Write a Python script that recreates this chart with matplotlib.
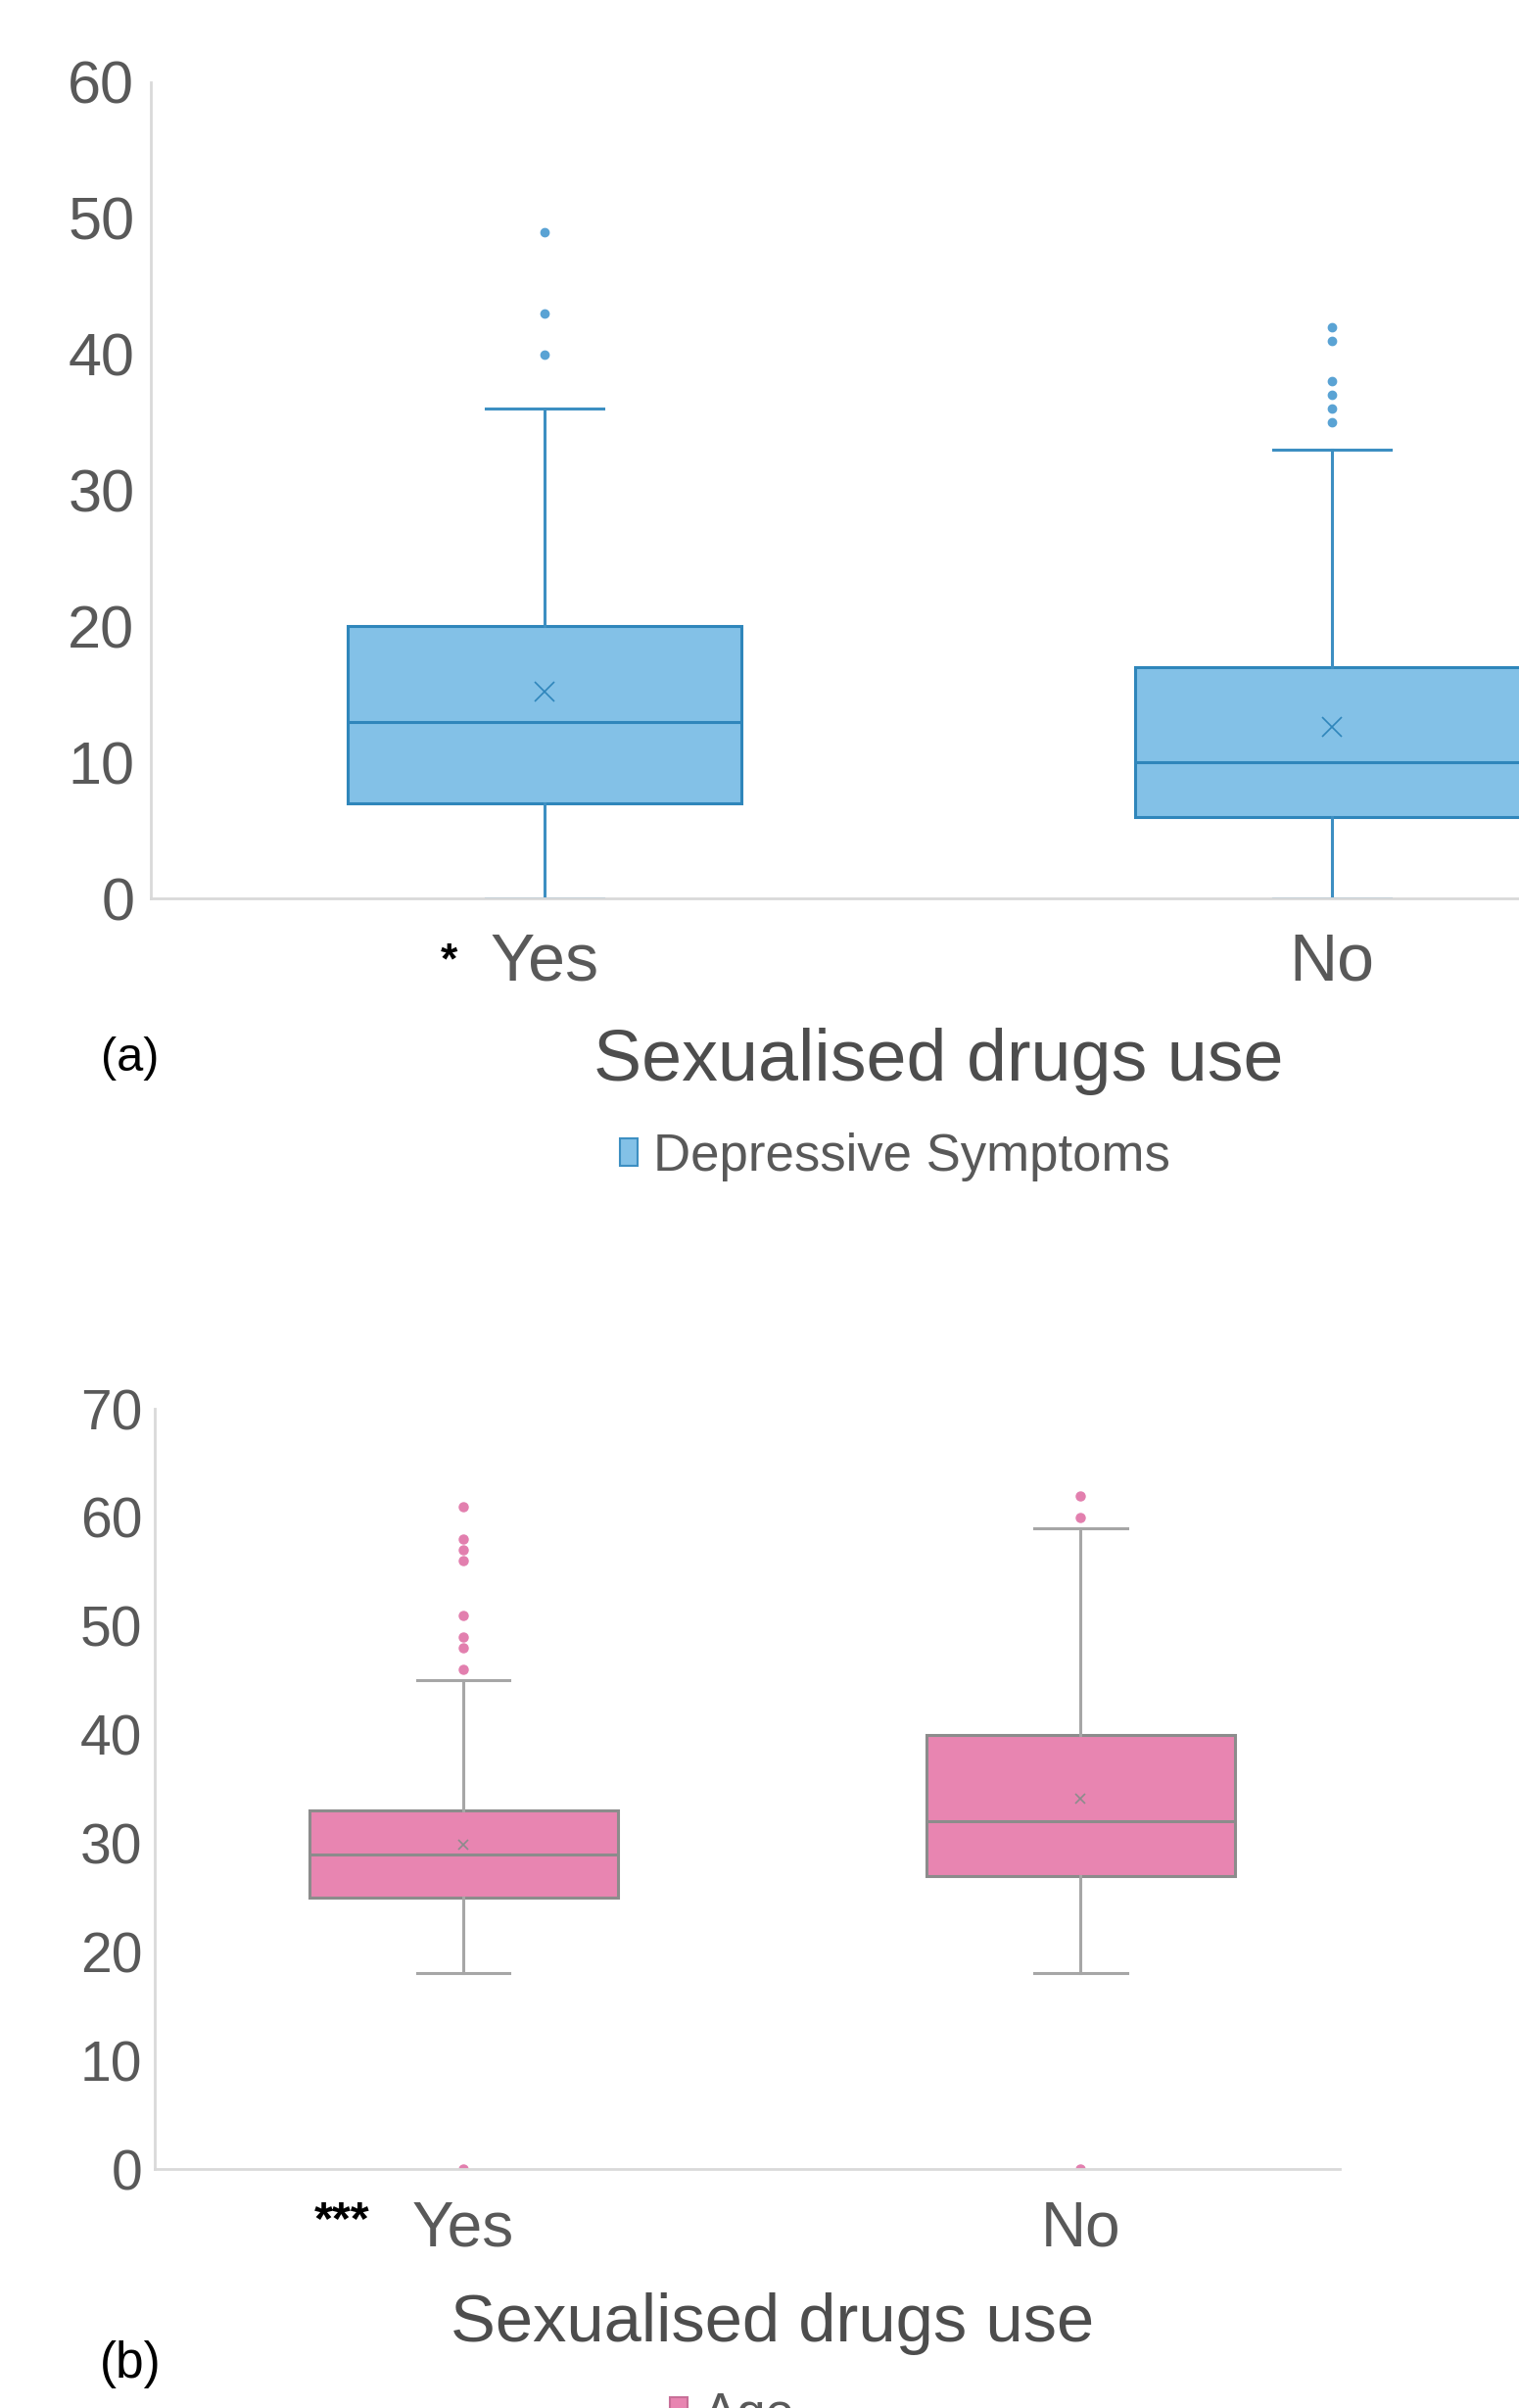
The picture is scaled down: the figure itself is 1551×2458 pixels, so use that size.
import matplotlib
matplotlib.use("Agg")
import matplotlib.pyplot as plt
from matplotlib.patches import Patch

plt.rcParams['font.family'] = ['Liberation Sans', 'DejaVu Sans']

W, H = 1551, 2458

groups = ['Yes', 'No']

# (a) depressive symptoms score by sexualised drugs use
dep_q1 = [7, 6]
dep_median = [13, 10]
dep_q3 = [20, 17]
dep_low = [0, 0]
dep_high = [36, 33]
dep_mean = [15.2, 12.6]
dep_outliers = [[40, 43, 49], [35, 36, 37, 38, 41, 42]]

# (b) age by sexualised drugs use
age_q1 = [25, 27]
age_median = [29, 32]
age_q3 = [33, 40]
age_low = [18, 18]
age_high = [45, 59]
age_mean = [29.9, 34.1]
age_outliers = [[0, 46, 48, 49, 51, 56, 57, 58, 61], [0, 60, 62]]


def make_stats(q1, med, q3, lo, hi, mean, fliers):
    return [dict(q1=q1[i], med=med[i], q3=q3[i], whislo=lo[i], whishi=hi[i],
                 mean=mean[i], fliers=fliers[i], label=groups[i])
            for i in range(len(groups))]


def style_axes(ax, ymax, ysize, xsize, ypad, xpad):
    for side in ['top', 'right']:
        ax.spines[side].set_visible(False)
    for side in ['left', 'bottom']:
        ax.spines[side].set_color('#d9d9d9')
        ax.spines[side].set_linewidth(2)
        ax.spines[side].set_zorder(3)
    ax.set_ylim(0, ymax)
    ax.set_yticks(range(0, ymax + 1, 10))
    ax.tick_params(axis='y', length=0, pad=ypad, labelsize=ysize, labelcolor='#595959')
    ax.tick_params(axis='x', length=0, pad=xpad, labelsize=xsize, labelcolor='#595959')
    ax.set_xticks([1, 2])
    ax.set_xticklabels(groups)


def draw_box(ax, stats, face, edge, whisk, flier, lw, mean_size, flier_size):
    ax.bxp(stats, positions=[1, 2], widths=0.5, capwidths=0.15,
           showmeans=True, patch_artist=True,
           boxprops=dict(facecolor=face, edgecolor=edge, linewidth=lw),
           medianprops=dict(color=edge, linewidth=lw),
           whiskerprops=dict(color=whisk, linewidth=lw),
           capprops=dict(color=whisk, linewidth=lw),
           meanprops=dict(marker='x', markeredgecolor=edge, markersize=mean_size,
                          markeredgewidth=1.2),
           flierprops=dict(marker='o', markerfacecolor=flier, markeredgecolor=flier,
                           markersize=flier_size, linestyle='none'))


fig = plt.figure(figsize=(W / 100, H / 100), dpi=100)

# panel (a): the axes run past the right edge of the figure
ax_a = fig.add_axes([154 / W, 1 - 917 / H, 1608 / W, 833 / H])
draw_box(ax_a, make_stats(dep_q1, dep_median, dep_q3, dep_low, dep_high, dep_mean, dep_outliers),
         '#83c1e7', '#2f86bb', '#3d8fc2', '#5aa3d4', 2.2, 14, 6)
style_axes(ax_a, 60, 44, 49, 12, 24)
ax_a.set_xlim(0.5, 2.5)

fig.text(958 / W, 1 - 1083 / H, 'Sexualised drugs use', fontsize=53, color='#4d4d4d',
         ha='center', va='center')
fig.text(133 / W, 1 - 1081 / H, '(a)', fontsize=35, color='black', ha='center', va='center')
fig.text(458 / W, 1 - 982 / H, '*', fontsize=32, fontweight='bold', color='black',
         ha='center', va='center')
ax_a.legend(handles=[Patch(facecolor='#83c1e7', edgecolor='#3d8fc2', linewidth=1.5,
                           label='Depressive Symptoms')],
            loc='center', bbox_to_anchor=(914 / W, 1 - 1181 / H), bbox_transform=fig.transFigure,
            frameon=False, fontsize=38, labelcolor='#595959',
            handlelength=0.35, handleheight=0.45, handletextpad=0.3, borderpad=0)

# panel (b)
ax_b = fig.add_axes([158 / W, 1 - 2214 / H, 1210 / W, 776 / H])
draw_box(ax_b, make_stats(age_q1, age_median, age_q3, age_low, age_high, age_mean, age_outliers),
         '#e885b1', '#8c8c8c', '#a6a6a6', '#e27fae', 2.2, 7, 6.5)
style_axes(ax_b, 70, 41, 46, 9, 23)
ax_b.set_xlim(0.5, 2.42)

fig.text(789 / W, 1 - 2372 / H, 'Sexualised drugs use', fontsize=49.5, color='#4d4d4d',
         ha='center', va='center')
fig.text(133 / W, 1 - 2414 / H, '(b)', fontsize=37, color='black', ha='center', va='center')
fig.text(349 / W, 1 - 2268 / H, '***', fontsize=35, fontweight='bold', color='black',
         ha='center', va='center')
ax_b.legend(handles=[Patch(facecolor='#e885b1', edgecolor='#c86f98', linewidth=1.5, label='Age')],
            loc='center', bbox_to_anchor=(748 / W, 1 - 2466 / H), bbox_transform=fig.transFigure,
            frameon=False, fontsize=38, labelcolor='#595959',
            handlelength=0.35, handleheight=0.45, handletextpad=0.3, borderpad=0)

fig.savefig('out.png', dpi=100)
